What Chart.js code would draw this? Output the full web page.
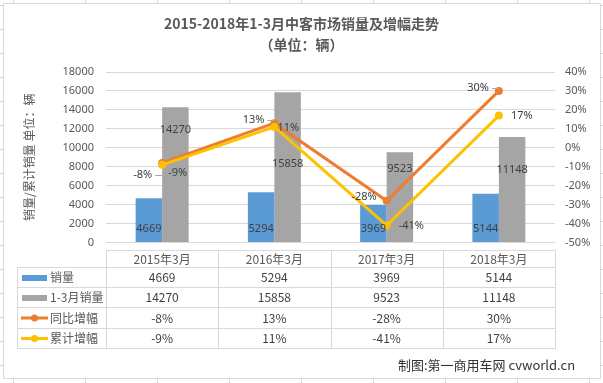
<!DOCTYPE html>
<html>
<head>
<meta charset="utf-8">
<script src="https://cdn.jsdelivr.net/npm/chart.js@4/dist/chart.umd.min.js"></script>
<style>
html,body{margin:0;padding:0;background:#fff;}
#wrap{position:relative;width:603px;height:383px;overflow:hidden;background-color:#fff;
  background-image:linear-gradient(to right,#d4d4d4 1px,transparent 1px),linear-gradient(to bottom,#d4d4d4 1px,transparent 1px);
  background-size:72px 24px;background-position:13px 5px;}
#frame{position:absolute;left:3px;top:3px;width:596px;height:374px;background:#fff;border:1px solid #d9d9d9;}
#c{position:absolute;left:0;top:0;}
#foot{position:absolute;left:398px;top:356px;font:13px "Noto Sans CJK SC",sans-serif;color:#333;white-space:nowrap;line-height:18px;}
</style>
</head>
<body>
<div id="wrap">
  <div id="frame"></div>
  <canvas id="c" width="603" height="383"></canvas>
  <div id="foot">制图:第一商用车网 cvworld.cn</div>
</div>
<script>
// ---- data ----
const categories = ['2015年3月', '2016年3月', '2017年3月', '2018年3月'];
const seriesNames = ['销量', '1-3月销量', '同比增幅', '累计增幅'];
const monthlySales = [4669, 5294, 3969, 5144];
const ytdSales = [14270, 15858, 9523, 11148];
const yoyGrowth = [-8, 13, -28, 30];
const ytdGrowth = [-9, 11, -41, 17];
const leftAxisRange = [0, 18000, 2000];
const rightAxisRange = [-50, 40, 10];

const colors = ['#5b9bd5', '#a5a5a5', '#ed7d31', '#ffc000'];
const numFont = '11px "Noto Sans", "Noto Sans CJK SC", sans-serif';
const cjkFont = '12px "Noto Sans CJK SC", sans-serif';

const extras = {
  id: 'excelExtras',
  afterDatasetsDraw(chart, args, opts) {
    const ctx = chart.ctx;
    ctx.save();
    ctx.font = numFont;
    ctx.fillStyle = '#404040';
    ctx.textBaseline = 'middle';
    ctx.textAlign = 'center';
    chart.getDatasetMeta(0).data.forEach((bar, i) => {
      ctx.fillText(String(monthlySales[i]), bar.x, bar.base - 13.5);
    });
    chart.getDatasetMeta(1).data.forEach((bar, i) => {
      ctx.fillText(String(ytdSales[i]), bar.x, bar.y + opts.grayLabelOffsets[i]);
    });
    ctx.textAlign = 'right';
    chart.getDatasetMeta(2).data.forEach((pt, i) => {
      const y = pt.y + opts.orangeDy[i];
      if (opts.orangeLeader[i]) {
        ctx.save();
        ctx.strokeStyle = '#a6a6a6'; ctx.lineWidth = 1;
        ctx.beginPath(); ctx.moveTo(pt.x - 7, Math.round(y) + 0.5); ctx.lineTo(pt.x, Math.round(y) + 0.5); ctx.stroke();
        ctx.restore();
      }
      ctx.fillText(yoyGrowth[i] + '%', pt.x - 10, y);
    });
    ctx.textAlign = 'left';
    chart.getDatasetMeta(3).data.forEach((pt, i) => {
      ctx.fillText(ytdGrowth[i] + '%', pt.x + opts.yellowDx[i], pt.y + opts.yellowDy[i]);
    });
    ctx.restore();
  },
  afterDraw(chart, args, opts) {
    const ctx = chart.ctx;
    const area = chart.chartArea;
    const xs = chart.scales.x;
    const L = Math.round(area.left) + 0.5, R = Math.round(area.right) + 0.5;
    const legL = 17.5;
    const b = area.bottom;
    const rows = [b + 7.5, b + 24.5, b + 44.5, b + 64.5, b + 85, b + 105.5].map(v => Math.round(v) + 0.5);
    ctx.save();
    ctx.strokeStyle = '#d9d9d9';
    ctx.lineWidth = 1;
    ctx.beginPath();
    ctx.moveTo(L, rows[0]); ctx.lineTo(R, rows[0]);
    for (let r = 1; r < rows.length; r++) { ctx.moveTo(legL, rows[r]); ctx.lineTo(R, rows[r]); }
    ctx.moveTo(legL, rows[1]); ctx.lineTo(legL, rows[5]);
    const n = categories.length;
    const colW = (area.right - area.left) / n;
    for (let k = 0; k <= n; k++) {
      const x = Math.round(area.left + colW * k) + 0.5;
      ctx.moveTo(x, rows[0]); ctx.lineTo(x, rows[5]);
    }
    ctx.stroke();

    ctx.textBaseline = 'middle';
    ctx.font = cjkFont;
    ctx.fillStyle = '#595959';
    ctx.textAlign = 'center';
    categories.forEach((c, i) => ctx.fillText(c, xs.getPixelForValue(i), (rows[0] + rows[1]) / 2));
    const rowVals = [monthlySales.map(String), ytdSales.map(String), yoyGrowth.map(v => v + '%'), ytdGrowth.map(v => v + '%')];
    for (let r = 0; r < 4; r++) {
      const cy = (rows[r + 1] + rows[r + 2]) / 2;
      ctx.fillStyle = colors[r];
      if (r < 2) {
        ctx.fillRect(22, Math.round(cy) - 3, 25, 6);
      } else {
        ctx.strokeStyle = colors[r]; ctx.lineWidth = 3;
        ctx.beginPath(); ctx.moveTo(21, cy); ctx.lineTo(48, cy); ctx.stroke();
        ctx.beginPath(); ctx.arc(34.5, cy, 3.5, 0, Math.PI * 2); ctx.fill();
      }
      ctx.fillStyle = '#595959';
      ctx.textAlign = 'left';
      ctx.font = cjkFont;
      ctx.fillText(seriesNames[r], 50, cy);
      ctx.textAlign = 'center';
      ctx.fillStyle = '#404040';
      rowVals[r].forEach((t, i) => ctx.fillText(t, xs.getPixelForValue(i), cy));
    }
    ctx.restore();
  }
};

new Chart(document.getElementById('c'), {
  data: {
    labels: categories,
    datasets: [
      { type: 'bar', label: seriesNames[0], data: monthlySales, backgroundColor: colors[0], yAxisID: 'y', order: 3,
        categoryPercentage: 0.472, barPercentage: 1 },
      { type: 'bar', label: seriesNames[1], data: ytdSales, backgroundColor: colors[1], yAxisID: 'y', order: 4,
        categoryPercentage: 0.472, barPercentage: 1 },
      { type: 'line', label: seriesNames[2], data: yoyGrowth, borderColor: colors[2], backgroundColor: colors[2],
        borderWidth: 3, pointRadius: 4, pointBorderWidth: 0, pointBackgroundColor: colors[2], yAxisID: 'y1', order: 2, tension: 0 },
      { type: 'line', label: seriesNames[3], data: ytdGrowth, borderColor: colors[3], backgroundColor: colors[3],
        borderWidth: 3, pointRadius: 4, pointBorderWidth: 0, pointBackgroundColor: colors[3], yAxisID: 'y1', order: 1, tension: 0 }
    ]
  },
  options: {
    responsive: false,
    animation: false,
    layout: { padding: { left: 0, right: 0, top: 0, bottom: 140.5 } },
    plugins: {
      legend: { display: false },
      tooltip: { enabled: false },
      title: {
        display: true,
        text: ['2015-2018年1-3月中客市场销量及增幅走势', '（单位：辆）'],
        font: { family: '"Noto Sans CJK SC", sans-serif', size: 14, weight: 'bold', lineHeight: 1.5 },
        color: '#595959',
        padding: { top: 13.5, bottom: 16.5 }
      },
      excelExtras: {
        grayLabelOffsets: [23, 72, 17, 33],
        orangeDy: [12, -3, -4, -3],
        orangeLeader: [true, true, false, true],
        yellowDx: [6, 3, 12, 12],
        yellowDy: [8, 1, 0, 0]
      }
    },
    scales: {
      x: { display: false, offset: true },
      y: {
        position: 'left',
        min: leftAxisRange[0], max: leftAxisRange[1],
        ticks: { stepSize: leftAxisRange[2], padding: 12, color: '#595959', font: { family: '"Noto Sans", sans-serif', size: 11 },
          callback: v => String(v) },
        grid: { color: '#d9d9d9', lineWidth: 1, drawTicks: false },
        border: { display: false },
        title: { display: true, text: '销量/累计销量 单位：辆', color: '#595959',
          font: { family: '"Noto Sans CJK SC", sans-serif', size: 12 }, padding: { top: 21.8, bottom: 0 } },
        afterFit(s) { s.width = 106; }
      },
      y1: {
        position: 'right',
        min: rightAxisRange[0], max: rightAxisRange[1],
        ticks: { stepSize: rightAxisRange[2], padding: 10, color: '#595959', font: { family: '"Noto Sans", sans-serif', size: 11 },
          callback: v => v + '%' },
        grid: { display: false, drawTicks: false },
        border: { display: false },
        afterFit(s) { s.width = 48; }
      }
    }
  },
  plugins: [extras]
});
</script>
</body>
</html>
